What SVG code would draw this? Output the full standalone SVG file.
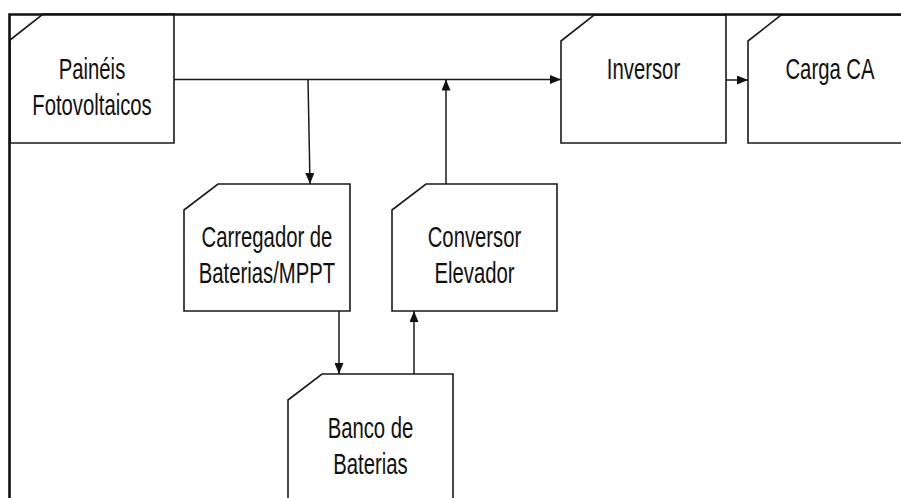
<svg xmlns="http://www.w3.org/2000/svg" width="901" height="498" viewBox="0 0 901 498">
<style>
.box{fill:#fff;stroke:#1a1a1a;stroke-width:1.6}
.t{font-family:"Liberation Sans",Arial,sans-serif;font-size:29px;fill:#111;text-anchor:middle}
.c{fill:none;stroke:#1a1a1a;stroke-width:1.5}
.border{fill:none;stroke:#111;stroke-width:2.6}
</style>
<defs>
<marker id="arr" markerUnits="userSpaceOnUse" markerWidth="11" markerHeight="9" refX="11" refY="4.5" orient="auto">
<path d="M0,0 L11,4.5 L0,9 z" fill="#111"/>
</marker>
</defs>
<rect width="901" height="498" fill="#fff"/>
<g id="connectors">
<path class="c" d="M174,79.5 H561" marker-end="url(#arr)"/>
<path class="c" d="M308,79.5 L310,184" marker-end="url(#arr)"/>
<path class="c" d="M446,184 V79.5" marker-end="url(#arr)"/>
<path class="c" d="M726,80 H748" marker-end="url(#arr)"/>
<path class="c" d="M339,311 V374" marker-end="url(#arr)"/>
<path class="c" d="M414,374 V311" marker-end="url(#arr)"/>
</g>
<g id="paineis">
<path class="box" d="M10,40 L43,14 H174 V143 H10 Z"/>
<text class="t" transform="translate(92,79) scale(0.7,1)"><tspan x="0">Painéis</tspan><tspan x="0" dy="36">Fotovoltaicos</tspan></text>
</g>
<g id="inversor">
<path class="box" d="M561,41 L594,15 H726 V143 H561 Z"/>
<text class="t" transform="translate(643.5,79) scale(0.7,1)">Inversor</text>
</g>
<g id="carga">
<path class="box" d="M748,41 L781,15 H912 V143 H748 Z"/>
<text class="t" transform="translate(830,79) scale(0.7,1)">Carga CA</text>
</g>
<g id="carregador">
<path class="box" d="M184,210 L218,184 H350 V311 H184 Z"/>
<text class="t" transform="translate(267,247) scale(0.7,1)"><tspan x="0">Carregador de</tspan><tspan x="0" dy="36">Baterias/MPPT</tspan></text>
</g>
<g id="conversor">
<path class="box" d="M392,210 L426,184 H557 V311 H392 Z"/>
<text class="t" transform="translate(474.5,247) scale(0.7,1)"><tspan x="0">Conversor</tspan><tspan x="0" dy="36">Elevador</tspan></text>
</g>
<g id="banco">
<path class="box" d="M288,400 L322,374 H453 V510 H288 Z"/>
<text class="t" transform="translate(370.5,438) scale(0.7,1)"><tspan x="0">Banco de</tspan><tspan x="0" dy="36">Baterias</tspan></text>
</g>
<g id="frame">
<path class="border" d="M9.5,498 V14.5 H901"/>
</g>
</svg>
